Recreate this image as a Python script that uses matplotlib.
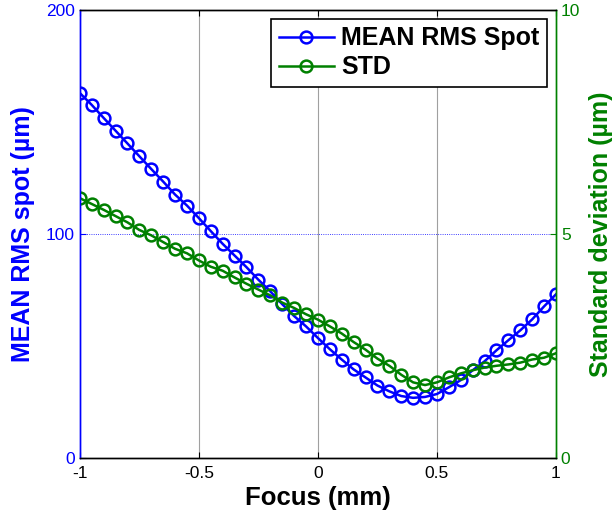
import numpy as np
import matplotlib
matplotlib.use('Agg')
import matplotlib.pyplot as plt

plt.rcParams['font.family'] = ['Liberation Sans', 'DejaVu Sans']
plt.rcParams['axes.unicode_minus'] = False

# focus positions (mm)
focus = np.round(np.arange(-1, 1.0001, 0.05), 2)

# mean RMS spot (um), left axis
rms_spot = [162.9, 157.6, 151.8, 146.1, 140.4, 134.7, 129.0, 123.4, 117.6, 112.7,
            107.1, 101.3, 95.6, 90.4, 85.2, 79.6, 74.4, 68.7, 63.4, 58.8,
            53.6, 48.6, 44.0, 39.6, 36.0, 32.4, 29.8, 27.7, 26.9, 27.3,
            28.6, 31.6, 34.8, 39.2, 43.2, 48.1, 52.6, 57.0, 61.9, 67.7, 73.1]

# standard deviation (um), right axis
std_dev = [5.80, 5.67, 5.54, 5.40, 5.26, 5.09, 4.97, 4.82, 4.67, 4.57,
           4.41, 4.27, 4.18, 4.03, 3.89, 3.76, 3.63, 3.47, 3.35, 3.21,
           3.09, 2.94, 2.78, 2.59, 2.42, 2.22, 2.06, 1.86, 1.69, 1.63,
           1.69, 1.80, 1.89, 1.96, 2.02, 2.06, 2.09, 2.13, 2.20, 2.24, 2.34]

xticks = [-1, -0.5, 0, 0.5, 1]
xticklabels = ['-1', '-0.5', '0', '0.5', '1']
left_ticks = [0, 100, 200]
right_ticks = [0, 5, 10]

blue = '#0000ff'
green = '#008000'

fig = plt.figure(figsize=(6.14, 5.20), dpi=100)
ax = fig.add_axes([0.130, 0.119, 0.7755, 0.862])
ax2 = ax.twinx()

l1, = ax.plot(focus, rms_spot, color=blue, lw=1.8, marker='o', ms=8.5,
              mfc='none', mew=1.8, label='MEAN RMS Spot')
l2, = ax2.plot(focus, std_dev, color=green, lw=1.8, marker='o', ms=8.5,
               mfc='none', mew=1.8, label='STD')

ax.set_xlim(-1, 1)
ax.set_ylim(0, 200)
ax2.set_ylim(0, 10)
ax.set_xticks(xticks)
ax.set_xticklabels(xticklabels)
ax.set_yticks(left_ticks)
ax2.set_yticks(right_ticks)

# grid: gray verticals, blue dotted horizontal from the left axis
for x in xticks[1:-1]:
    ax.axvline(x, color='#a0a0a0', lw=0.8, zorder=0)
ax.axhline(100, color=blue, lw=0.6, ls=':', zorder=0)

ax.tick_params(axis='x', direction='in', length=4, top=True, labelsize=12.5,
               color='black', pad=6)
ax.tick_params(axis='y', direction='in', length=4, colors=blue, labelsize=12.5)
ax2.tick_params(axis='y', direction='in', length=4, colors=green, labelsize=12.5)
ax2.tick_params(axis='x', top=False)

for a in (ax, ax2):
    a.spines['top'].set_color('black')
    a.spines['bottom'].set_color('black')
    a.spines['left'].set_color(blue)
    a.spines['right'].set_color(green)
    for s in a.spines.values():
        s.set_linewidth(1.0)

ax.set_xlabel('Focus (mm)', fontsize=18.5, fontweight='bold', labelpad=3)
ax.set_ylabel('MEAN RMS spot (µm)', fontsize=18, fontweight='bold', color=blue,
              labelpad=8)
ax2.set_ylabel('Standard deviation (µm)', fontsize=18, fontweight='bold',
               color=green, labelpad=6)

leg = ax2.legend([l1, l2], ['MEAN RMS Spot', 'STD'], loc='upper right',
                 bbox_to_anchor=(0.981, 0.98), borderaxespad=0, fancybox=False,
                 framealpha=1, edgecolor='black', handlelength=2.2,
                 handletextpad=0.3, borderpad=0.3, labelspacing=0.2,
                 prop={'size': 18, 'weight': 'bold'})
leg.get_frame().set_linewidth(1.2)

fig.savefig('out.png', dpi=100)
